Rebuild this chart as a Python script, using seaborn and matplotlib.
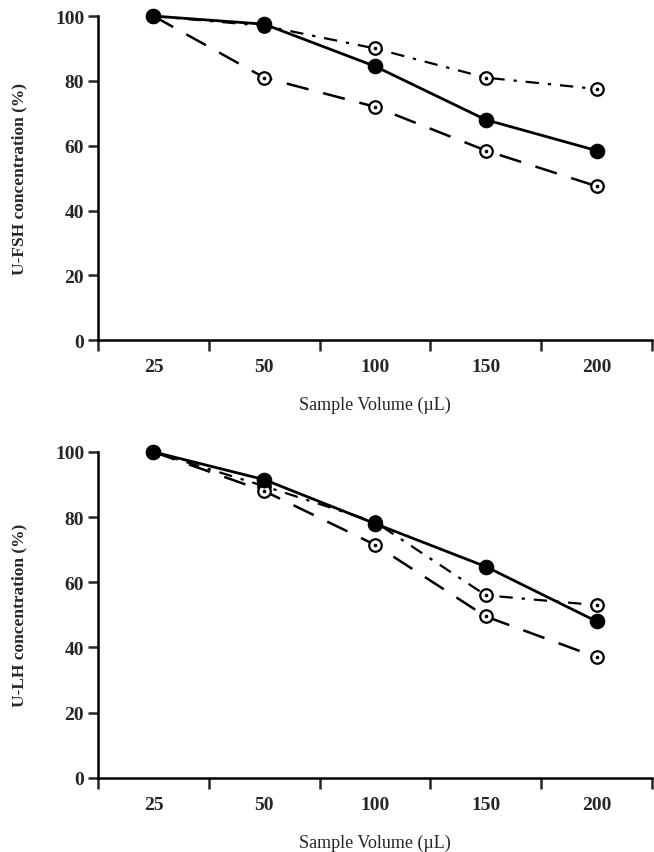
import matplotlib
matplotlib.use("Agg")
import matplotlib.pyplot as plt
import seaborn as sns
import pandas as pd

# sample volumes (categorical x axis)
volumes = ["25", "50", "100", "150", "200"]

# U-FSH panel
fsh_solid = [100, 97.5, 84.5, 68, 58.5]
fsh_dashdot = [100, 97, 90, 81, 77.5]
fsh_dashed = [100, 81, 72, 58.5, 47.5]

# U-LH panel
lh_solid = [100, 91.5, 78, 64.8, 48]
lh_dashdot = [100, 89.5, 78.5, 56, 53]
lh_dashed = [100, 88, 71.5, 49.5, 37]

sns.set_theme(style="ticks")
plt.rcParams['font.family'] = ['Liberation Serif', 'DejaVu Serif']


def draw_panel(ax, solid, dashdot, dashed, ylabel):
    df = pd.DataFrame({"pos": range(len(volumes)), "solid": solid,
                       "dashdot": dashdot, "dashed": dashed})

    # dash-dot series, open circle with center dot
    sns.lineplot(data=df, x="pos", y="dashdot", ax=ax, color="black",
                 linestyle=(0, (6, 4, 1.5, 4)), linewidth=1.6,
                 marker="o", markersize=9, markerfacecolor="white",
                 markeredgecolor="black", markeredgewidth=1.6, clip_on=False, zorder=3)
    # dashed series, open circle with center dot
    sns.lineplot(data=df, x="pos", y="dashed", ax=ax, color="black",
                 linestyle=(0, (9, 6)), linewidth=1.8,
                 marker="o", markersize=9, markerfacecolor="white",
                 markeredgecolor="black", markeredgewidth=1.6, clip_on=False, zorder=3)
    for col in ["dashdot", "dashed"]:
        ax.plot(df["pos"][1:], df[col][1:], linestyle="none", marker="o",
                markersize=1.6, color="black", clip_on=False, zorder=4)
    # solid series, filled circles
    sns.lineplot(data=df, x="pos", y="solid", ax=ax, color="black",
                 linewidth=2, marker="o", markersize=10.5,
                 markerfacecolor="black", markeredgecolor="black",
                 clip_on=False, zorder=5)

    ax.set_xlim(-0.5, 4.5)
    ax.set_ylim(0, 100)
    ax.set_yticks([0, 20, 40, 60, 80, 100])
    ax.set_xticks(range(len(volumes)))
    ax.set_xticklabels(volumes)
    ax.set_xticks([i - 0.5 for i in range(len(volumes) + 1)], minor=True)
    ax.tick_params(axis="x", which="major", length=0, pad=13, labelsize=14)
    ax.tick_params(axis="x", which="minor", length=8, width=1.8, direction="out")
    ax.tick_params(axis="y", length=7, width=1.8, direction="out", pad=3, labelsize=14)
    for lab in ax.get_xticklabels() + ax.get_yticklabels():
        lab.set_fontweight("bold")
    for side in ["top", "right"]:
        ax.spines[side].set_visible(False)
    for side in ["left", "bottom"]:
        ax.spines[side].set_linewidth(1.8)
        ax.spines[side].set_color("black")

    ax.set_xlabel("Sample Volume (µL)", fontsize=13, labelpad=15)
    ax.set_ylabel(ylabel, fontsize=12.5, fontweight="bold", labelpad=20)


fig = plt.figure(figsize=(6.54, 8.53), dpi=100)
ax_top = fig.add_axes([0.150, 0.600, 0.847, 0.380])
ax_bot = fig.add_axes([0.150, 0.087, 0.847, 0.382])

draw_panel(ax_top, fsh_solid, fsh_dashdot, fsh_dashed, "U-FSH concentration (%)")
draw_panel(ax_bot, lh_solid, lh_dashdot, lh_dashed, "U-LH concentration (%)")

fig.savefig("out.png", dpi=100)
